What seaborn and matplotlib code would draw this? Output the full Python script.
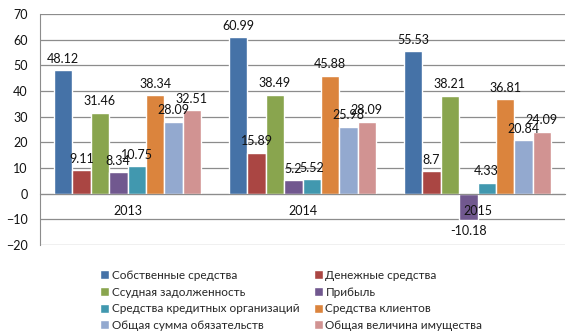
import matplotlib
matplotlib.use("Agg")
import matplotlib.pyplot as plt
from matplotlib.ticker import FixedLocator
import seaborn as sns
import pandas as pd

years = ["2013", "2014", "2015"]
series = [
    "Собственные средства",
    "Денежные средства",
    "Ссудная задолженность",
    "Прибыль",
    "Средства кредитных организаций",
    "Средства клиентов",
    "Общая сумма обязательств",
    "Общая величина имущества",
]
v_own = [48.12, 60.99, 55.53]
v_cash = [9.11, 15.89, 8.7]
v_loans = [31.46, 38.49, 38.21]
v_profit = [8.34, 5.2, -10.18]
v_credit_org = [10.75, 5.52, 4.33]
v_clients = [38.34, 45.88, 36.81]
v_liab = [28.09, 25.98, 20.84]
v_assets = [32.51, 28.09, 24.09]
values = [v_own, v_cash, v_loans, v_profit, v_credit_org, v_clients, v_liab, v_assets]
colors = ["#4572A7", "#AA4643", "#89A54E", "#71588F", "#4198AF", "#DB843D", "#93A9CF", "#D19392"]

rows = []
for s, vals in zip(series, values):
    for y, v in zip(years, vals):
        rows.append({"year": y, "series": s, "value": v})
df = pd.DataFrame(rows)

sns.set_style("white")
plt.rcParams["font.family"] = ["Lato", "DejaVu Sans"]

fig = plt.figure(figsize=(5.76, 3.36), dpi=100)
ax = fig.add_axes([40/576, 1-245/336, 525/576, 231/336])

sns.barplot(data=df, x="year", y="value", hue="series", hue_order=series,
            order=years, palette=colors, width=0.84, saturation=1, ax=ax,
            legend=True, errorbar=None, zorder=3)

for cont in ax.containers:
    ax.bar_label(cont, fmt="{:g}", padding=4, fontsize=9, color="#111111", zorder=6)

ax.set_ylim(-20, 70)
ax.set_xlim(-0.5, 2.5)
ax.set_yticks(range(-20, 71, 10))
ax.yaxis.grid(True, color="#8c8c8c", linewidth=0.9, zorder=0)
ax.set_axisbelow(True)
ax.set_xlabel("")
ax.set_ylabel("")
ax.xaxis.set_zorder(6)

for sp in ["top", "right"]:
    ax.spines[sp].set_visible(False)
ax.spines["left"].set_color("#8c8c8c")
ax.spines["bottom"].set_color("#8c8c8c")
ax.spines["bottom"].set_position(("data", 0))
ax.spines["bottom"].set_zorder(5)

ax.tick_params(axis="y", length=6, color="#8c8c8c", labelsize=9, pad=3, labelcolor="#111111")
ax.tick_params(axis="x", which="major", length=0, labelsize=9, pad=8, labelcolor="#111111")
ax.xaxis.set_minor_locator(FixedLocator([-0.5, 0.5, 1.5, 2.5]))
ax.tick_params(axis="x", which="minor", length=5, color="#8c8c8c", direction="out")

handles, labels = ax.get_legend_handles_labels()
ax.get_legend().remove()
order = [0, 2, 4, 6, 1, 3, 5, 7]
fig.legend([handles[i] for i in order], [labels[i] for i in order],
           ncol=2, loc="upper left", bbox_to_anchor=(100/576, 1-270/336),
           frameon=False, fontsize=8.5, handlelength=0.8, handleheight=0.8,
           handletextpad=0.2, columnspacing=1.2, labelspacing=0.48,
           borderaxespad=0, borderpad=0)

fig.savefig("out.png", dpi=100)
